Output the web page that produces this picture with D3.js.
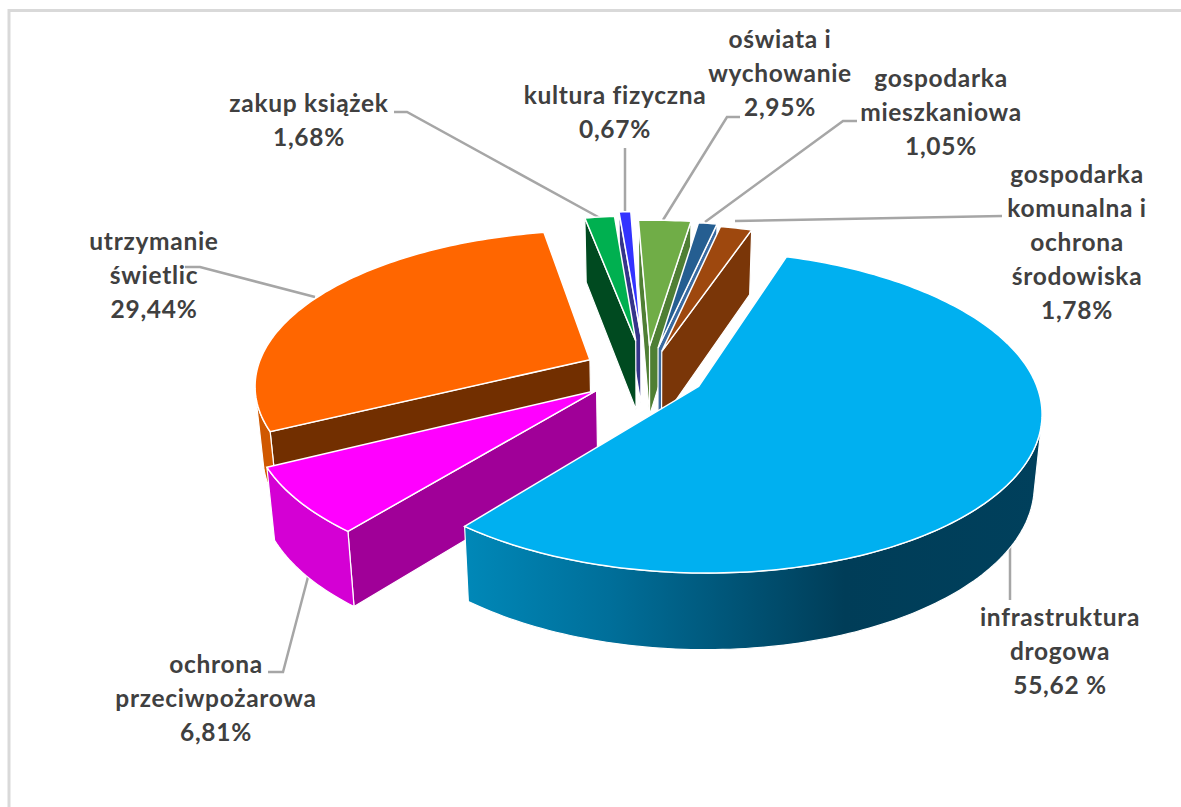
<!DOCTYPE html>
<html>
<head>
<meta charset="utf-8">
<script src="https://d3js.org/d3.v7.min.js"></script>
<style>
  html, body { margin: 0; padding: 0; background: #fff; }
  text { font-family: Lato, "Noto Sans", sans-serif; font-weight: 700; fill: #404040; letter-spacing: 0.7px; }
</style>
</head>
<body>
<div id="chart"></div>
<script>
// pie data, in the clockwise order of the slices
const categories = ['infrastruktura drogowa', 'ochrona przeciwpożarowa', 'utrzymanie świetlic', 'zakup książek',
  'kultura fizyczna', 'oświata i wychowanie', 'gospodarka mieszkaniowa', 'gospodarka komunalna i ochrona środowiska'];
const values = [55.62, 6.81, 29.44, 1.68, 0.67, 2.95, 1.05, 1.78];
const valueLabels = ['55,62 %', '6,81%', '29,44%', '1,68%', '0,67%', '2,95%', '1,05%', '1,78%'];

// styling per slice
const topColors = ['#00b0f0', '#ff00ff', '#ff6600', '#00b050', '#3333ff', '#70ad47', '#255e91', '#9e480e'];
const wallColors = ['url(#blueWall)', '#d400d4', '#d05800', '#004a20', '#1a1a80', '#5a8a3a', '#2f5f95', '#7a3608'];
const radialColors = ['#004060', '#a00098', '#722f00', '#004a20', '#35358a', '#4f7f34', '#3a6aa0', '#7a3608'];
const explode = [0.152, 0.21, 0.21, 0.24, 0.28, 0.2, 0.19, 0.17];
const nudgeU = [0.004, 0, 0, -0.018, -0.018, -0.018, -0.015, -0.015];
const nudgeV = [-0.005, -0.04, -0.015, 0, 0, 0, 0, 0];
const drawOrder = [2, 5, 4, 3, 6, 7, 1, 0];

// label text lines and where they sit
const labelLines = [
  ['infrastruktura', 'drogowa'],
  ['ochrona', 'przeciwpożarowa'],
  ['utrzymanie', 'świetlic'],
  ['zakup książek'],
  ['kultura fizyczna'],
  ['oświata i', 'wychowanie'],
  ['gospodarka', 'mieszkaniowa'],
  ['gospodarka', 'komunalna i', 'ochrona', 'środowiska']
];
const labelX = [1060, 216, 154, 309, 615, 780, 941, 1077];
const labelY = [626, 673, 250, 112, 104, 48, 87, 183];
const labelStep = 34;

const leaders = [
  [[1010, 600], [1010, 545]],
  [[268, 672], [283, 672], [308, 577]],
  [[185, 267], [200, 267], [315, 297]],
  [[394, 112], [407, 112], [600, 218]],
  [[625, 148], [625, 220]],
  [[740, 117], [727, 117], [663, 220]],
  [[857, 121], [843, 121], [705, 222]],
  [[1002, 216], [735, 221]]
];

const width = 1181, height = 807;
const cx = 652, cy = 376, R = 335, ry = 154, depth = 70;
const perspX = 0.15, perspY = 0.155, shrink = 0.98;
const startDeg = 18.5;

const svg = d3.select('#chart').append('svg')
  .attr('width', width)
  .attr('height', height)
  .style('display', 'block');

const grad = svg.append('defs').append('linearGradient')
  .attr('id', 'blueWall')
  .attr('gradientUnits', 'userSpaceOnUse')
  .attr('x1', 465).attr('x2', 1040).attr('y1', 0).attr('y2', 0);
[[0, '#0088b8'], [0.25, '#006f9a'], [0.66, '#003d58'], [1, '#00405c']].forEach(s => {
  grad.append('stop').attr('offset', s[0]).attr('stop-color', s[1]);
});

// frame, only left and top show
svg.append('path')
  .attr('d', d3.line()([[9, height], [9, 10.5], [width, 10.5]]))
  .attr('fill', 'none')
  .attr('stroke', '#d9d9d9')
  .attr('stroke-width', 3);

// unit disc -> screen, z = 0 is the top face and z = 1 the bottom
function project(u, v, z) {
  const wx = 1 / (1 - perspX * v);
  const wy = 1 / (1 - perspY * v);
  let x = cx + u * R * wx;
  let y = cy + v * ry * wy;
  if (z) {
    x = cx + (x - cx) * shrink;
    y += depth * Math.sqrt(wy);
  }
  return [x, y];
}

const pie = d3.pie().sort(null).value(d => d)
  .startAngle(startDeg * Math.PI / 180)
  .endAngle((startDeg + 360) * Math.PI / 180);
const arcs = pie(values);

const line = d3.line();
const closed = pts => line(pts) + 'Z';

// leader lines go under the pie
svg.append('g').selectAll('path')
  .data(leaders)
  .join('path')
  .attr('d', d => line(d))
  .attr('fill', 'none')
  .attr('stroke', '#a6a6a6')
  .attr('stroke-width', 2.5);

const pieG = svg.append('g');

drawOrder.forEach(i => {
  const a = arcs[i];
  const mid = (a.startAngle + a.endAngle) / 2;
  const ou = Math.sin(mid) * explode[i] + nudgeU[i];
  const ov = -Math.cos(mid) * explode[i] + nudgeV[i];
  const n = Math.max(2, Math.ceil((a.endAngle - a.startAngle) / 0.02));
  const rim = d3.range(n + 1).map(k => {
    const t = a.startAngle + (a.endAngle - a.startAngle) * k / n;
    return [ou + Math.sin(t), ov - Math.cos(t)];
  });
  const top = rim.map(p => project(p[0], p[1], 0));
  const bot = rim.map(p => project(p[0], p[1], 1));
  const apexTop = project(ou, ov, 0);
  const apexBot = project(ou, ov, 1);
  const g = pieG.append('g');

  // radial walls, only the ones that face us
  const wallA = [apexTop, top[0], bot[0], apexBot];
  const wallB = [top[n], apexTop, apexBot, bot[n]];
  [wallA, wallB].forEach(w => {
    if (d3.polygonArea(w) > 0) {
      g.append('path').attr('d', closed(w))
        .attr('fill', radialColors[i])
        .attr('stroke', '#fff').attr('stroke-width', 1.2);
    }
  });

  // outer wall, front facing stretch of the rim
  const seen = d3.range(n).filter(k => d3.polygonArea([top[k], top[k + 1], bot[k + 1], bot[k]]) > 0);
  if (seen.length) {
    const k0 = seen[0], k1 = seen[seen.length - 1] + 1;
    const wall = top.slice(k0, k1 + 1).concat(bot.slice(k0, k1 + 1).reverse());
    g.append('path').attr('d', closed(wall))
      .attr('fill', wallColors[i])
      .attr('stroke', '#fff').attr('stroke-width', 1.2);
  }

  g.append('path').attr('d', closed([apexTop].concat(top)))
    .attr('fill', topColors[i])
    .attr('stroke', '#fff').attr('stroke-width', 1.5);
});

// labels
const labels = svg.append('g').selectAll('text')
  .data(categories)
  .join('text')
  .attr('text-anchor', 'middle')
  .attr('font-size', 24.5);

labels.each(function (d, i) {
  const lines = labelLines[i].concat([valueLabels[i]]);
  d3.select(this).selectAll('tspan')
    .data(lines)
    .join('tspan')
    .attr('x', labelX[i])
    .attr('y', (t, k) => labelY[i] + k * labelStep)
    .text(t => t);
});
</script>
</body>
</html>
